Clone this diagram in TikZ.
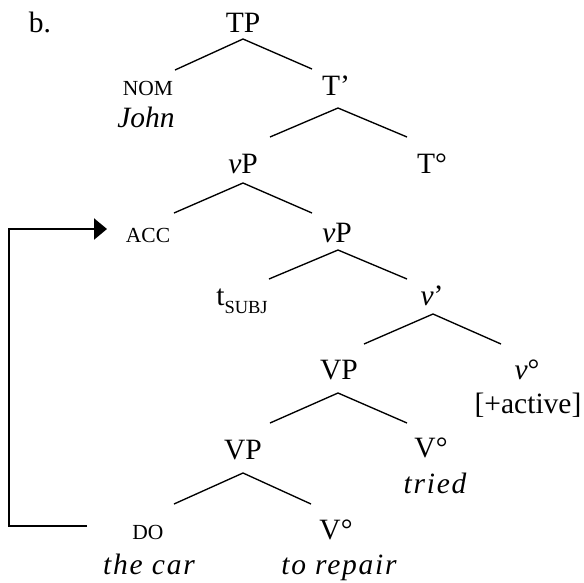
\documentclass[tikz,border=0pt]{standalone}
\usepackage{fontspec}
\setmainfont{Liberation Serif}
\newfontface\itw{Liberation Serif Italic}[LetterSpace=6]
\usetikzlibrary{arrows.meta}
\tikzset{
  lbl/.style={inner sep=0pt, anchor=base, font=\fontsize{29.5}{31}\selectfont},
  sm/.style={inner sep=0pt, anchor=base, font=\fontsize{21.5}{24}\selectfont},
  branch/.style={line width=1.35pt},
  movement/.style={line width=2.3pt, -{Triangle[length=13pt,width=21pt]}}
}
\begin{document}
\begin{tikzpicture}[x=1pt,y=-1pt]
\useasboundingbox (0,0) rectangle (584,582);
% labels
\node[lbl] (b) at (40,32) {b.};
\node[lbl] (TP) at (243,32) {TP};
\node[sm] (NOM) at (148,95) {NOM};
\node[lbl] (John) at (146,127) {\itshape John};
\node[lbl] (Tbar) at (336,95) {T’};
\node[lbl] (vP1) at (243,173) {{\itshape v}P};
\node[lbl] (Tdeg) at (432,173) {T°};
\node[sm] (ACC) at (148,242) {ACC};
\node[lbl] (vP2) at (337,242) {{\itshape v}P};
\node[lbl] (tsubj) at (242,305) {t\raisebox{-8pt}{\fontsize{18.5}{20}\selectfont SUBJ}};
\node[lbl] (vbar) at (432,305) {{\itshape v}’};
\node[lbl] (VP1) at (339,379) {VP};
\node[lbl] (vdeg) at (527,379) {{\itshape v}°};
\node[lbl] (active) at (528,413) {[+active]};
\node[lbl] (VP2) at (243,459) {VP};
\node[lbl] (Vtried) at (431,457) {V°};
\node[lbl] (tried) at (435,493) {\itw tried};
\node[sm] (DO) at (148,539) {DO};
\node[lbl] (Vrep) at (336,539) {V°};
\node[lbl] (thecar) at (149,574) {\itw the car};
\node[lbl] (torepair) at (339,574) {\itw to repair};
% branch points
\coordinate (aTP) at (243,39);   \coordinate (lTP) at (175,70);  \coordinate (rTP) at (312,69);
\coordinate (aTb) at (338,108);  \coordinate (lTb) at (270,137); \coordinate (rTb) at (407,137);
\coordinate (avP1) at (243,183); \coordinate (lvP1) at (174,213); \coordinate (rvP1) at (312,213);
\coordinate (avP2) at (338,250); \coordinate (lvP2) at (269,279); \coordinate (rvP2) at (407,279);
\coordinate (avb) at (433,314);  \coordinate (lvb) at (364,344); \coordinate (rvb) at (501,344);
\coordinate (aVP1) at (338,393); \coordinate (lVP1) at (270,423); \coordinate (rVP1) at (407,423);
\coordinate (aVP2) at (243,473); \coordinate (lVP2) at (174,504); \coordinate (rVP2) at (311,504);
\draw[branch] (lTP) -- (aTP) -- (rTP);
\draw[branch] (lTb) -- (aTb) -- (rTb);
\draw[branch] (lvP1) -- (avP1) -- (rvP1);
\draw[branch] (lvP2) -- (avP2) -- (rvP2);
\draw[branch] (lvb) -- (avb) -- (rvb);
\draw[branch] (lVP1) -- (aVP1) -- (rVP1);
\draw[branch] (lVP2) -- (aVP2) -- (rVP2);
% movement arrow
\coordinate (mStart) at (87,526);
\coordinate (mCorner1) at (9,526);
\coordinate (mCorner2) at (9,229);
\coordinate (mEnd) at (107,229);
\draw[movement] (mStart) -- (mCorner1) -- (mCorner2) -- (mEnd);
\end{tikzpicture}
\end{document}
